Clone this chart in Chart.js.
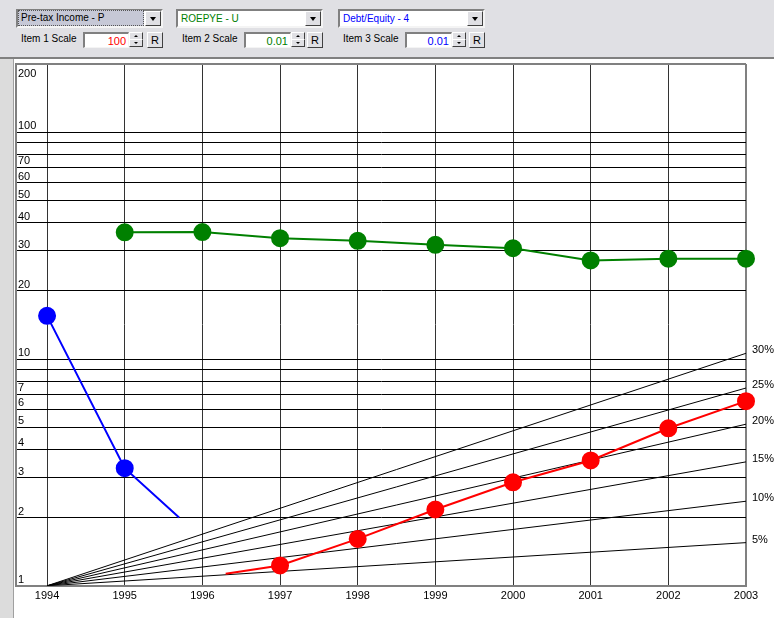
<!DOCTYPE html>
<html>
<head>
<meta charset="utf-8">
<script src="https://cdn.jsdelivr.net/npm/chart.js@4.4.1/dist/chart.umd.min.js"></script>
<style>
  body { margin:0; background:#fff; font-family:"Liberation Sans", Arial, sans-serif; }
  #wrap { position:relative; width:774px; height:618px; overflow:hidden; }
  #strip { position:absolute; left:0; top:58px; width:13px; height:560px; background:#dcdcdc; border-right:1px solid #a0a0a0; }
  #bar { position:absolute; left:0; top:0; width:774px; height:57px; background:#e0e0e4; border-bottom:2px solid #808080; z-index:2; }
  .combo { position:absolute; top:9px; height:15px; background:#fff; border-top:2px solid #808080; border-left:2px solid #808080; border-bottom:2px solid #f4f4f4; border-right:2px solid #f4f4f4; font-size:10px; line-height:15px; }
  .combo .txt { position:absolute; left:1px; top:0; height:15px; padding-left:2px; }
  .combo.sel .txt { background:#c6c8d6; border:1px dotted #555; top:-1px; left:0; right:17px; height:14px; line-height:14px; }
  .btn { position:absolute; top:0; width:14px; height:13px; background:#e0e0e4; border-top:1px solid #fff; border-left:1px solid #fff; border-right:1px solid #404040; border-bottom:1px solid #404040; }
  .combo .btn { right:0; }
  .arrow { position:absolute; left:4px; top:5px; width:0; height:0; border-left:3px solid transparent; border-right:3px solid transparent; border-top:4px solid #000; }
  .lbl { position:absolute; top:32px; font-size:10px; line-height:14px; color:#000; }
  .inp { position:absolute; top:32px; height:13px; background:#fff; border-top:2px solid #808080; border-left:2px solid #808080; border-bottom:1px solid #f4f4f4; border-right:1px solid #f4f4f4; font-size:11px; line-height:14px; text-align:right; padding-right:2px; box-sizing:content-box; }
  .spin { position:absolute; top:32px; width:13px; height:15px; }
  .spin div { position:absolute; left:0; width:12px; height:6px; background:#e0e0e4; border-top:1px solid #fff; border-left:1px solid #fff; border-right:1px solid #404040; border-bottom:1px solid #404040; }
  .spin .up { top:0; } .spin .dn { top:7px; }
  .spin i { position:absolute; left:4px; width:0; height:0; border-left:2px solid transparent; border-right:2px solid transparent; }
  .spin .up i { top:2px; border-bottom:2px solid #000; }
  .spin .dn i { top:2px; border-top:2px solid #000; }
  .rbtn { position:absolute; top:32px; width:14px; height:14px; background:#e0e0e4; border-top:1px solid #fff; border-left:1px solid #fff; border-right:1px solid #404040; border-bottom:1px solid #404040; font-size:11px; line-height:14px; text-align:center; }
  canvas { position:absolute; left:0; top:0; }
</style>
</head>
<body>
<div id="wrap">
  <div id="strip"></div>
  <canvas id="myChart" width="774" height="618"></canvas>
  <div id="bar">
    <div class="combo sel" style="left:16px;width:143px"><span class="txt">Pre-tax Income - P</span><div class="btn"><div class="arrow"></div></div></div>
    <div class="combo" style="left:176px;width:143px;color:#008000"><span class="txt">ROEPYE - U</span><div class="btn"><div class="arrow"></div></div></div>
    <div class="combo" style="left:338px;width:143px;color:#0000ff"><span class="txt">Debt/Equity - 4</span><div class="btn"><div class="arrow"></div></div></div>

    <div class="lbl" style="left:21px">Item 1 Scale</div>
    <div class="inp" style="left:83px;width:41px;color:#ff0000">100</div>
    <div class="spin" style="left:129px"><div class="up"><i></i></div><div class="dn"><i></i></div></div>
    <div class="rbtn" style="left:147px">R</div>

    <div class="lbl" style="left:182px">Item 2 Scale</div>
    <div class="inp" style="left:244px;width:42px;color:#008000">0.01</div>
    <div class="spin" style="left:291px"><div class="up"><i></i></div><div class="dn"><i></i></div></div>
    <div class="rbtn" style="left:307px">R</div>

    <div class="lbl" style="left:343px">Item 3 Scale</div>
    <div class="inp" style="left:405px;width:42px;color:#0000ff">0.01</div>
    <div class="spin" style="left:452px"><div class="up"><i></i></div><div class="dn"><i></i></div></div>
    <div class="rbtn" style="left:469px">R</div>
  </div>
</div>
<script>
// years on the x axis
const years = [1994, 1995, 1996, 1997, 1998, 1999, 2000, 2001, 2002, 2003];

// Pre-tax Income (red), first point is where the line starts between years
const pretaxYears = [1996.3, 1997, 1998, 1999, 2000, 2001, 2002, 2003];
const pretaxValues = [1.13, 1.23, 1.61, 2.17, 2.86, 3.57, 4.95, 6.52];

// ROEPYE (green)
const roeYears = [1995, 1996, 1997, 1998, 1999, 2000, 2001, 2002, 2003];
const roeValues = [36.2, 36.3, 34.1, 33.2, 31.9, 30.8, 27.2, 27.7, 27.7];

// Debt/Equity (blue), last point is where the line stops
const deYears = [1994, 1995, 1995.7];
const deValues = [15.5, 3.3, 2.0];

// growth guide lines, from 1 in 1994 to these values in 2003
const growthLabels = ['5%', '10%', '15%', '20%', '25%', '30%'];
const growthEnd = [1.55, 2.36, 3.52, 5.16, 7.45, 10.6];

// y axis grid lines and their labels
const gridValues = [1, 2, 3, 4, 5, 6, 7, 8, 9, 10, 20, 30, 40, 50, 60, 70, 80, 90, 100, 200];
const yLabels = [1, 2, 3, 4, 5, 6, 7, 10, 20, 30, 40, 50, 60, 70, 100, 200];

function pts(xs, ys) {
    return xs.map((x, i) => ({x: x, y: ys[i]}));
}

const datasets = [
    {data: pts(deYears, deValues), borderColor: '#0000ff', backgroundColor: '#0000ff', borderWidth: 2,
        pointRadius: [8, 8, 0], clip: false},
    {data: pts(roeYears, roeValues), borderColor: '#008000', backgroundColor: '#008000', borderWidth: 2,
        pointRadius: 8, clip: false},
    {data: pts(pretaxYears, pretaxValues), borderColor: '#ff0000', backgroundColor: '#ff0000', borderWidth: 2,
        pointRadius: [0, 8, 8, 8, 8, 8, 8, 8], clip: false}
];
growthEnd.forEach(function (v) {
    datasets.push({data: [{x: years[0], y: 1}, {x: years[years.length - 1], y: v}],
        borderColor: '#000', borderWidth: 1, pointRadius: 0});
});

// labels on the y axis and the % labels on the right
const labelPlugin = {
    id: 'labels',
    afterDatasetsDraw(chart) {
        const ctx = chart.ctx;
        const y = chart.scales.y;
        const x = chart.scales.x;
        ctx.save();
        ctx.font = '11px "Liberation Sans", Arial, sans-serif';
        ctx.fillStyle = '#000';
        ctx.textAlign = 'left';
        ctx.textBaseline = 'middle';
        yLabels.forEach(function (v) {
            let py = y.getPixelForValue(v);
            py = (v === y.max) ? py + 10 : py - 6;
            ctx.fillText(String(v), chart.chartArea.left + 2, py);
        });
        growthLabels.forEach(function (t, i) {
            const py = y.getPixelForValue(growthEnd[i]);
            ctx.fillText(t, x.getPixelForValue(years[years.length - 1]) + 6, py - 3);
        });
        ctx.restore();
    }
};

new Chart(document.getElementById('myChart'), {
    type: 'line',
    data: {datasets: datasets},
    plugins: [labelPlugin],
    options: {
        responsive: false,
        animation: false,
        events: [],
        layout: {padding: {left: 16, right: 28, top: 64, bottom: 11}},
        plugins: {legend: {display: false}, tooltip: {enabled: false}},
        scales: {
            x: {
                type: 'linear',
                min: 1993.6,
                max: 2003,
                afterBuildTicks: function (axis) {
                    axis.ticks = years.map(v => ({value: v}));
                },
                grid: {
                    drawTicks: false,
                    color: ctx => (ctx.tick && ctx.tick.value === 2003) ? '#808080' : '#333',
                    lineWidth: ctx => (ctx.tick && ctx.tick.value === 2003) ? 2 : 1
                },
                border: {color: '#808080', width: 2},
                ticks: {
                    color: '#000',
                    padding: 4,
                    maxRotation: 0,
                    font: {family: '"Liberation Sans", Arial, sans-serif', size: 11},
                    callback: v => String(v)
                }
            },
            y: {
                type: 'logarithmic',
                min: 1,
                max: 200,
                afterBuildTicks: function (axis) {
                    axis.ticks = gridValues.map(v => ({value: v}));
                },
                grid: {
                    drawTicks: false,
                    color: ctx => (ctx.tick && ctx.tick.value === 200) ? '#808080' : '#000',
                    lineWidth: ctx => (ctx.tick && ctx.tick.value === 200) ? 2 : 1
                },
                border: {color: '#808080', width: 2},
                ticks: {display: false}
            }
        }
    }
});
</script>
</body>
</html>
